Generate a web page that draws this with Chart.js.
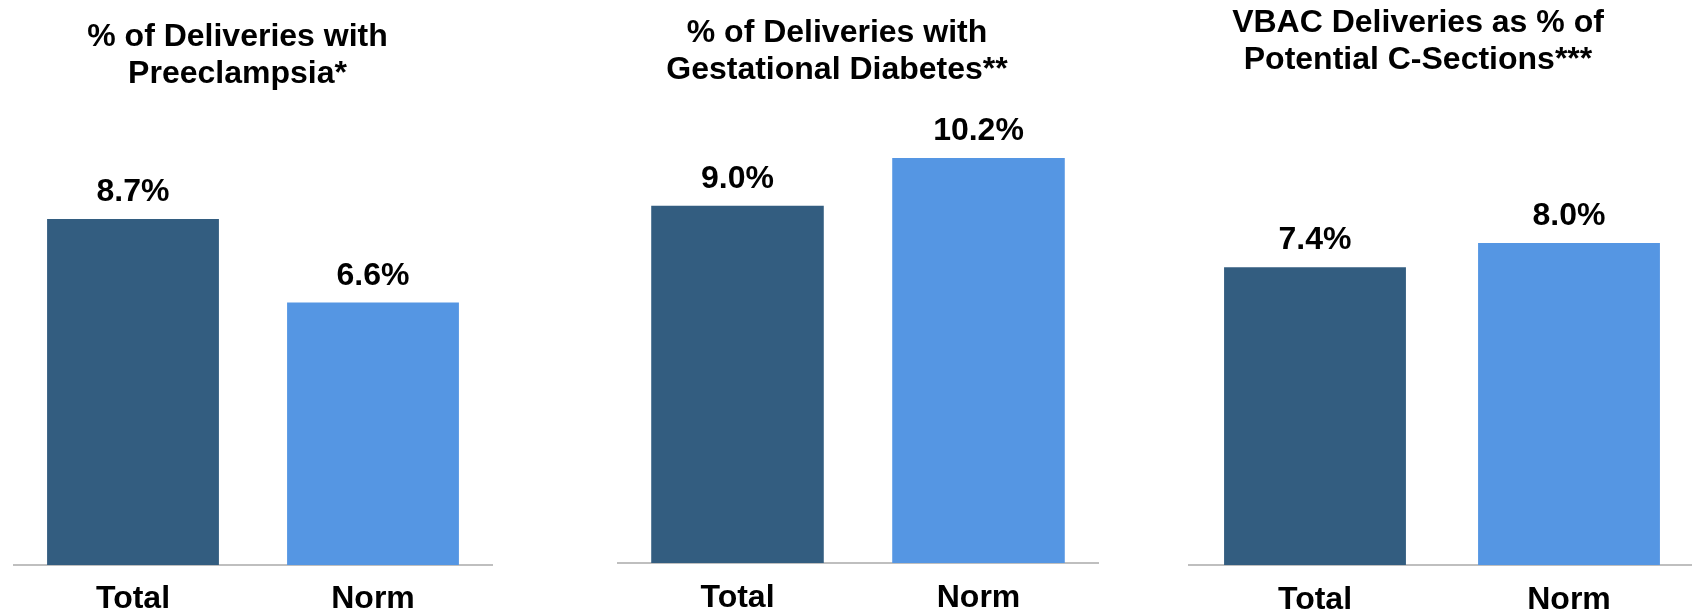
<!DOCTYPE html>
<html>
<head>
<meta charset="utf-8">
<script src="https://cdn.jsdelivr.net/npm/chart.js@4.4.1/dist/chart.umd.min.js"></script>
<style>
html,body{margin:0;padding:0;background:#ffffff;overflow:hidden;width:1692px;height:613px;}
canvas{position:absolute;top:0;}
</style>
</head>
<body>
<canvas id="c1"></canvas>
<canvas id="c2"></canvas>
<canvas id="c3"></canvas>
<script>
// ---- data ----
const categories = ['Total', 'Norm'];
const preeclampsiaValues = [8.7, 6.6];
const diabetesValues = [9.0, 10.2];
const vbacValues = [7.4, 8.0];
const preeclampsiaTitle = ['% of Deliveries with', 'Preeclampsia*'];
const diabetesTitle = ['% of Deliveries with', 'Gestational Diabetes**'];
const vbacTitle = ['VBAC Deliveries as % of', 'Potential C-Sections***'];
const yMax = 12;

// ---- styling / layout ----
const barColors = ['#335d80', '#5596e3'];
const FONT_FAMILY = '"Liberation Sans", Arial, Helvetica, sans-serif';

const panels = [
  { id: 'c1', left: 13, width: 480, bottom: 565, pxPerUnit: 39.77, axisH: 48, tickPad: 7,
    values: preeclampsiaValues, title: preeclampsiaTitle, titleX: 237.5, titleY: [45.7, 82.7] },
  { id: 'c2', left: 617, width: 482, bottom: 563, pxPerUnit: 39.7, axisH: 50, tickPad: 8,
    values: diabetesValues, title: diabetesTitle, titleX: 837, titleY: [42.3, 79.3] },
  { id: 'c3', left: 1188, width: 508, bottom: 565, pxPerUnit: 40.25, axisH: 48, tickPad: 8,
    values: vbacValues, title: vbacTitle, titleX: 1418, titleY: [31.7, 69] }
];

const overlayPlugin = {
  id: 'overlay',
  afterDatasetsDraw(chart, args, opts) {
    const ctx = chart.ctx;
    ctx.save();
    ctx.fillStyle = '#000000';
    ctx.font = 'bold 32px ' + FONT_FAMILY;
    ctx.textAlign = 'center';
    ctx.textBaseline = 'alphabetic';
    const meta = chart.getDatasetMeta(0);
    const data = chart.data.datasets[0].data;
    meta.data.forEach((el, i) => {
      ctx.fillText(data[i].toFixed(1) + '%', el.x, el.y - 18);
    });
    // title
    opts.lines.forEach((line, i) => {
      ctx.fillText(line, opts.x, opts.ys[i]);
    });
    ctx.restore();
  }
};

panels.forEach(p => {
  const cv = document.getElementById(p.id);
  cv.width = p.width;
  cv.height = 613;
  cv.style.left = p.left + 'px';
  cv.style.width = p.width + 'px';
  cv.style.height = '613px';
  const topPad = p.bottom - yMax * p.pxPerUnit;
  new Chart(cv, {
    type: 'bar',
    data: {
      labels: categories,
      datasets: [{
        data: p.values,
        backgroundColor: barColors,
        borderWidth: 0,
        categoryPercentage: 1.0,
        barPercentage: 0.716
      }]
    },
    options: {
      responsive: false,
      animation: false,
      devicePixelRatio: 1,
      layout: { padding: { top: topPad, left: 0, right: 0, bottom: 0 } },
      plugins: {
        legend: { display: false },
        tooltip: { enabled: false },
        title: { display: false },
        overlay: { lines: p.title, x: p.titleX - p.left, ys: p.titleY }
      },
      scales: {
        x: {
          grid: { display: false },
          border: { display: true, color: '#bfbfbf', width: 2 },
          ticks: {
            color: '#000000',
            padding: p.tickPad,
            font: { family: FONT_FAMILY, size: 32, weight: 'bold' }
          },
          afterFit: (scale) => { scale.height = p.axisH; }
        },
        y: {
          display: false,
          min: 0,
          max: yMax
        }
      }
    },
    plugins: [overlayPlugin]
  });
});
</script>
</body>
</html>
